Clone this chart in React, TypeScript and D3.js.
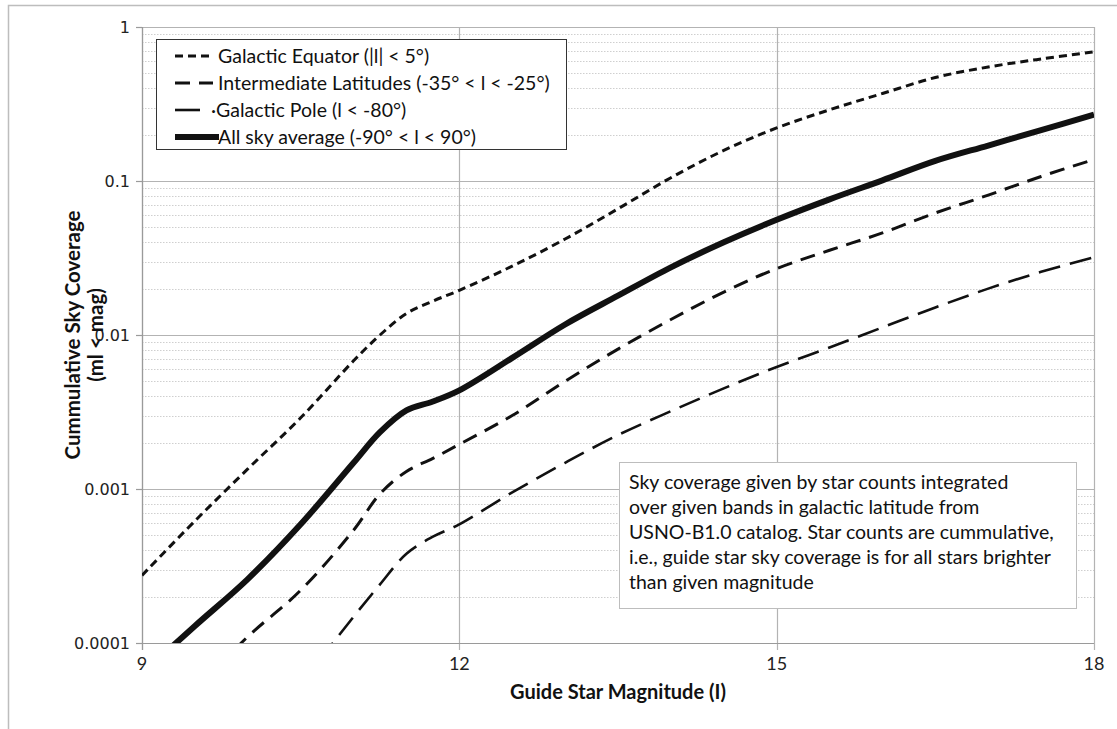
import React from "react";
import * as d3 from "d3";

const magnitudes = [9, 9.5, 10, 10.5, 11, 11.25, 11.5, 11.75, 12, 12.5, 13, 13.5, 14, 14.5, 15, 15.5, 16, 16.5, 17, 17.5, 18];
const equator = [0.000275, 0.00062, 0.00135, 0.0029, 0.0068, 0.0100, 0.0138, 0.0166, 0.0195, 0.028, 0.042, 0.066, 0.105, 0.158, 0.221, 0.29, 0.37, 0.47, 0.55, 0.62, 0.69];
const intermediate = [0.00003, 0.00005, 0.00011, 0.00022, 0.00054, 0.00093, 0.0013, 0.00158, 0.00195, 0.003, 0.005, 0.0081, 0.0126, 0.019, 0.027, 0.0355, 0.046, 0.062, 0.081, 0.107, 0.138];
const pole = [0.000005, 0.00001, 0.00002, 0.000054, 0.000148, 0.00024, 0.00038, 0.00049, 0.00059, 0.00095, 0.00148, 0.00224, 0.0032, 0.0045, 0.0062, 0.0083, 0.0112, 0.0151, 0.02, 0.0257, 0.032];
const allSky = [0.000063, 0.000129, 0.00026, 0.00059, 0.00148, 0.00234, 0.00324, 0.0037, 0.00437, 0.0071, 0.0117, 0.018, 0.0275, 0.04, 0.056, 0.076, 0.101, 0.135, 0.17, 0.214, 0.27];

const xTicks = [9, 12, 15, 18];
const yTicks = [1, 0.1, 0.01, 0.001, 0.0001];
const yTickLabels = ["1", "0.1", "0.01", "0.001", "0.0001"];

const seriesNames = [
  "Galactic Equator (|l| < 5°)",
  "Intermediate Latitudes (-35° < l < -25°)",
  "·Galactic Pole (l < -80°)",
  "All sky average (-90° < l < 90°)",
];

const noteLines = [
  "Sky coverage given by star counts integrated",
  "over given bands in galactic latitude from",
  "USNO-B1.0 catalog. Star counts are cummulative,",
  "i.e., guide star sky coverage is for all stars brighter",
  "than given magnitude",
];

const L = 142, R = 1094, T = 27, B = 643;

export default function App() {
  const x = d3.scaleLinear().domain([9, 18]).range([L, R]);
  const y = d3.scaleLog().domain([0.0001, 1]).range([B, T]);

  const line = d3
    .line<[number, number]>()
    .x((d) => x(d[0]))
    .y((d) => y(d[1]))
    .curve(d3.curveCatmullRom.alpha(0.5));

  const seriesData = [equator, intermediate, pole, allSky];
  const styles = [
    { w: 3, dash: "8,5", legendDash: "8,5" },
    { w: 3, dash: "15,9", legendDash: "15,9" },
    { w: 2.6, dash: "22,10", legendDash: "25,30" },
    { w: 6, dash: "none", legendDash: "none" },
  ];

  const minor: number[] = [];
  for (let e = -4; e < 0; e++) {
    for (let k = 2; k <= 9; k++) minor.push(k * Math.pow(10, e));
  }

  const font = "Lato, 'Open Sans', sans-serif";
  const tickFont = "DejaVu Sans, Verdana, sans-serif";

  return (
    <svg
      width={1117}
      height={729}
      style={{ position: "absolute", left: 0, top: 0, background: "#fff" }}
    >
      <rect x={8.5} y={5.5} width={1130} height={740} fill="#fff" stroke="#bdbdbd" strokeWidth={1.5} />
      <defs>
        <clipPath id="plotclip">
          <rect x={L} y={T} width={R - L} height={B - T} />
        </clipPath>
      </defs>
      {minor.map((v) => (
        <line
          key={"m" + v}
          x1={L}
          x2={R}
          y1={Math.round(y(v)) + 0.5}
          y2={Math.round(y(v)) + 0.5}
          stroke="#cfcfcf"
          strokeWidth={1}
          strokeDasharray="1.5,1.5"
        />
      ))}
      {yTicks.map((v) => (
        <line key={"g" + v} x1={L} x2={R} y1={Math.round(y(v)) + 0.5} y2={Math.round(y(v)) + 0.5} stroke="#b3b3b3" strokeWidth={1.2} />
      ))}
      {xTicks.map((v) => (
        <line key={"gx" + v} x1={Math.round(x(v)) + 0.5} x2={Math.round(x(v)) + 0.5} y1={T} y2={B + 7} stroke="#b3b3b3" strokeWidth={1.2} />
      ))}
      {yTicks.map((v) => (
        <line key={"ty" + v} x1={L - 6} x2={L} y1={Math.round(y(v)) + 0.5} y2={Math.round(y(v)) + 0.5} stroke="#9a9a9a" strokeWidth={1.2} />
      ))}
      <line x1={L + 0.5} x2={L + 0.5} y1={T} y2={B + 7} stroke="#9a9a9a" strokeWidth={1.2} />
      <line x1={L - 6} x2={R} y1={B + 0.5} y2={B + 0.5} stroke="#9a9a9a" strokeWidth={1.2} />
      <g clipPath="url(#plotclip)">
        {seriesData.map((vals, i) => (
          <path
            key={"s" + i}
            d={line(magnitudes.map((m, j) => [m, vals[j]] as [number, number])) || ""}
            fill="none"
            stroke="#111"
            strokeWidth={styles[i].w}
            strokeDasharray={styles[i].dash}
            strokeLinejoin="round"
          />
        ))}
      </g>
      {yTicks.map((v, i) => (
        <text key={"yl" + v} x={130} y={y(v) + 6} textAnchor="end" fontFamily={tickFont} fontSize={16} fill="#222">
          {yTickLabels[i]}
        </text>
      ))}
      {xTicks.map((v) => (
        <text key={"xl" + v} x={x(v)} y={670} textAnchor="middle" fontFamily={font} fontSize={18} fill="#222">
          {v}
        </text>
      ))}
      <text x={(L + R) / 2} y={699} textAnchor="middle" fontFamily={font} fontWeight="bold" fontSize={20} fill="#111">
        Guide Star Magnitude  (I)
      </text>
      <g transform="translate(80,335) rotate(-90)">
        <text x={0} y={0} textAnchor="middle" fontFamily={font} fontWeight="bold" fontSize={20.5} fill="#111">
          Cummulative  Sky Coverage
        </text>
        <text x={0} y={23} textAnchor="middle" fontFamily={font} fontWeight="bold" fontSize={20.5} fill="#111">
          (ml &lt; mag)
        </text>
      </g>
      <rect x={156.5} y={39.5} width={410} height={110} fill="#fff" stroke="#333" strokeWidth={1} />
      {seriesNames.map((name, i) => {
        const cy = 56 + i * 27;
        return (
          <g key={"lg" + i}>
            <line
              x1={175}
              x2={i === 3 ? 219 : 213}
              y1={cy}
              y2={cy}
              stroke="#111"
              strokeWidth={styles[i].w}
              strokeDasharray={styles[i].legendDash}
            />
            <text x={i === 2 ? 211 : 218} y={cy + 6.5} fontFamily={font} fontSize={19.5} fill="#111">
              {name}
            </text>
          </g>
        );
      })}
      <rect x={619.5} y={462.5} width={457} height={146} fill="#fff" stroke="#bdbdbd" strokeWidth={1} />
      {noteLines.map((t, i) => (
        <text key={"n" + i} x={629} y={489 + i * 25} fontFamily={font} fontSize={19.5} fill="#111">
          {t}
        </text>
      ))}
    </svg>
  );
}
